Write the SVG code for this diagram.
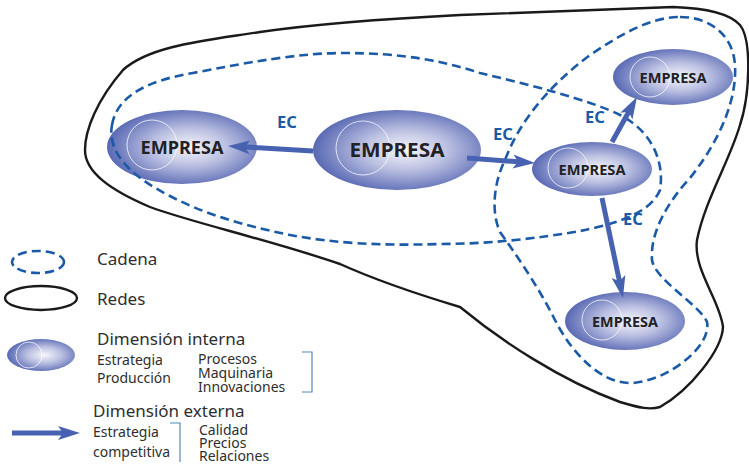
<svg xmlns="http://www.w3.org/2000/svg" width="749" height="464" viewBox="0 0 749 464">
  <defs>
    <radialGradient id="firm" cx="0.55" cy="0.5" r="0.55">
      <stop offset="0" stop-color="#f6f6fb"/>
      <stop offset="0.45" stop-color="#bcc1e2"/>
      <stop offset="1" stop-color="#5868b3"/>
    </radialGradient>
    <marker id="head" markerUnits="userSpaceOnUse" markerWidth="24" markerHeight="16" viewBox="0 -8 24 16" refX="8" refY="0" orient="auto">
      <path d="M0,-7 L22,0 L0,7 L5,0 Z" fill="#4862b2"/>
    </marker>
    <style>
      .firm { fill: url(#firm); }
      .ring { fill: none; stroke: #ffffff; stroke-opacity: 0.75; stroke-width: 1; }
      .name { font-family: "Noto Sans", "Liberation Sans", sans-serif; font-weight: bold; fill: #222226; text-anchor: middle; }
      .chain { fill: none; stroke: #1b5aa6; stroke-width: 2.6; stroke-dasharray: 9 5; }
      .net { fill: none; stroke: #1a1a1a; stroke-width: 2.4; }
      .link { stroke: #4862b2; stroke-width: 5; fill: none; marker-end: url(#head); }
      .ec { font-family: "Noto Sans", "Liberation Sans", sans-serif; font-weight: bold; font-size: 16.5px; fill: #1b5aa6; text-anchor: middle; }
      .lg { font-family: "Noto Sans", "Liberation Sans", sans-serif; fill: #2e2e2e; }
      .big { font-size: 17px; }
      .small { font-size: 14px; }
      .brk { fill: none; stroke: #5d83c2; stroke-width: 1.2; }
    </style>
  </defs>

  <!-- network outline -->
  <path class="net" d="M 123,70 C 150,45 210,40 260,32 C 330,22 400,18 460,15 L 673,7 C 705,8 730,14 740,25 C 752,40 750,95 740,125 C 730,160 705,200 697,240 C 693,270 720,300 723,327 C 722,350 690,390 660,407 C 650,410 640,408 620,402 C 560,380 500,340 460,307 C 420,295 380,282 340,264 C 270,240 190,222 150,207 C 110,190 85,172 85,150 C 85,130 97,100 123,70 Z"/>

  <!-- firms -->
  <g id="firm-left">
    <ellipse class="firm" cx="182" cy="147" rx="75" ry="37"/>
    <circle class="ring" cx="152" cy="145" r="25"/>
    <text class="name" x="182" y="154" font-size="18" textLength="83" lengthAdjust="spacingAndGlyphs">EMPRESA</text>
  </g>
  <g id="firm-center">
    <ellipse class="firm" cx="397" cy="150" rx="84" ry="40"/>
    <circle class="ring" cx="363" cy="148" r="27"/>
    <text class="name" x="397" y="157" font-size="20" textLength="95" lengthAdjust="spacingAndGlyphs">EMPRESA</text>
  </g>
  <g id="firm-mid">
    <ellipse class="firm" cx="592" cy="169" rx="60" ry="27"/>
    <circle class="ring" cx="568" cy="168" r="20"/>
    <text class="name" x="592" y="175" font-size="15" textLength="67" lengthAdjust="spacingAndGlyphs">EMPRESA</text>
  </g>
  <g id="firm-top">
    <ellipse class="firm" cx="673" cy="77" rx="60" ry="28"/>
    <circle class="ring" cx="650" cy="77" r="20"/>
    <text class="name" x="673" y="83" font-size="15" textLength="67" lengthAdjust="spacingAndGlyphs">EMPRESA</text>
  </g>
  <g id="firm-bottom">
    <ellipse class="firm" cx="625" cy="321" rx="60" ry="29"/>
    <circle class="ring" cx="602" cy="320" r="20"/>
    <text class="name" x="625" y="327" font-size="15" textLength="66" lengthAdjust="spacingAndGlyphs">EMPRESA</text>
  </g>

  <!-- chains -->
  <g id="chains">
    <path class="chain" d="M 112,125 C 117,95 150,80 193,73 C 250,62 300,53 343,53 C 400,53 440,60 480,73 C 530,85 590,100 620,115 C 650,130 665,160 660,190 C 650,215 610,225 580,231 C 540,238 490,244 440,244 C 380,246 333,243 290,235 C 240,225 200,212 170,196 C 130,176 107,152 112,125 Z"/>
    <path class="chain" d="M 680,17 C 710,17 733,35 735,65 C 737,100 720,140 690,178 C 665,205 650,235 652,260 C 655,280 700,305 707,322 C 712,345 670,380 633,383 C 600,385 570,350 555,320 C 540,290 520,260 500,232 C 490,210 495,180 505,160 C 520,120 550,85 590,55 C 620,35 650,17 680,17 Z"/>
  </g>

  <!-- connectors -->
  <g id="connectors">
    <line class="link" x1="313" y1="151" x2="242" y2="146.8"/>
    <line class="link" x1="467" y1="158" x2="521" y2="162"/>
    <line class="link" x1="612" y1="142" x2="630.2" y2="109.2"/>
    <line class="link" x1="602" y1="198" x2="620.1" y2="284.3"/>
    <text class="ec" x="287" y="128">EC</text>
    <text class="ec" x="503" y="140">EC</text>
    <text class="ec" x="595" y="123">EC</text>
    <text class="ec" x="633" y="225">EC</text>
  </g>

  <!-- legend -->
  <g id="legend">
    <ellipse cx="38" cy="262" rx="26" ry="11" class="chain"/>
    <text class="lg big" x="97" y="265">Cadena</text>

    <ellipse cx="41" cy="298" rx="36" ry="12" class="net"/>
    <text class="lg big" x="97" y="305">Redes</text>

    <ellipse class="firm" cx="41" cy="355" rx="34" ry="16"/>
    <circle class="ring" cx="29" cy="355" r="13"/>
    <text class="lg big" x="97" y="345">Dimensión interna</text>
    <text class="lg small" x="97" y="365">Estrategia</text>
    <text class="lg small" x="97" y="383">Producción</text>
    <text class="lg small" x="198" y="364">Procesos</text>
    <text class="lg small" x="198" y="378">Maquinaria</text>
    <text class="lg small" x="198" y="392">Innovaciones</text>
    <path class="brk" d="M 302,352 L 312,352 L 312,392 L 302,392"/>

    <text class="lg big" x="93" y="417">Dimensión externa</text>
    <line class="link" x1="12" y1="433" x2="66" y2="433"/>
    <text class="lg small" x="93" y="437">Estrategia</text>
    <text class="lg small" x="93" y="457">competitiva</text>
    <path class="brk" d="M 170,423 L 180,423 L 180,462"/>
    <text class="lg small" x="199" y="435">Calidad</text>
    <text class="lg small" x="199" y="448">Precios</text>
    <text class="lg small" x="199" y="461">Relaciones</text>
  </g>
</svg>
